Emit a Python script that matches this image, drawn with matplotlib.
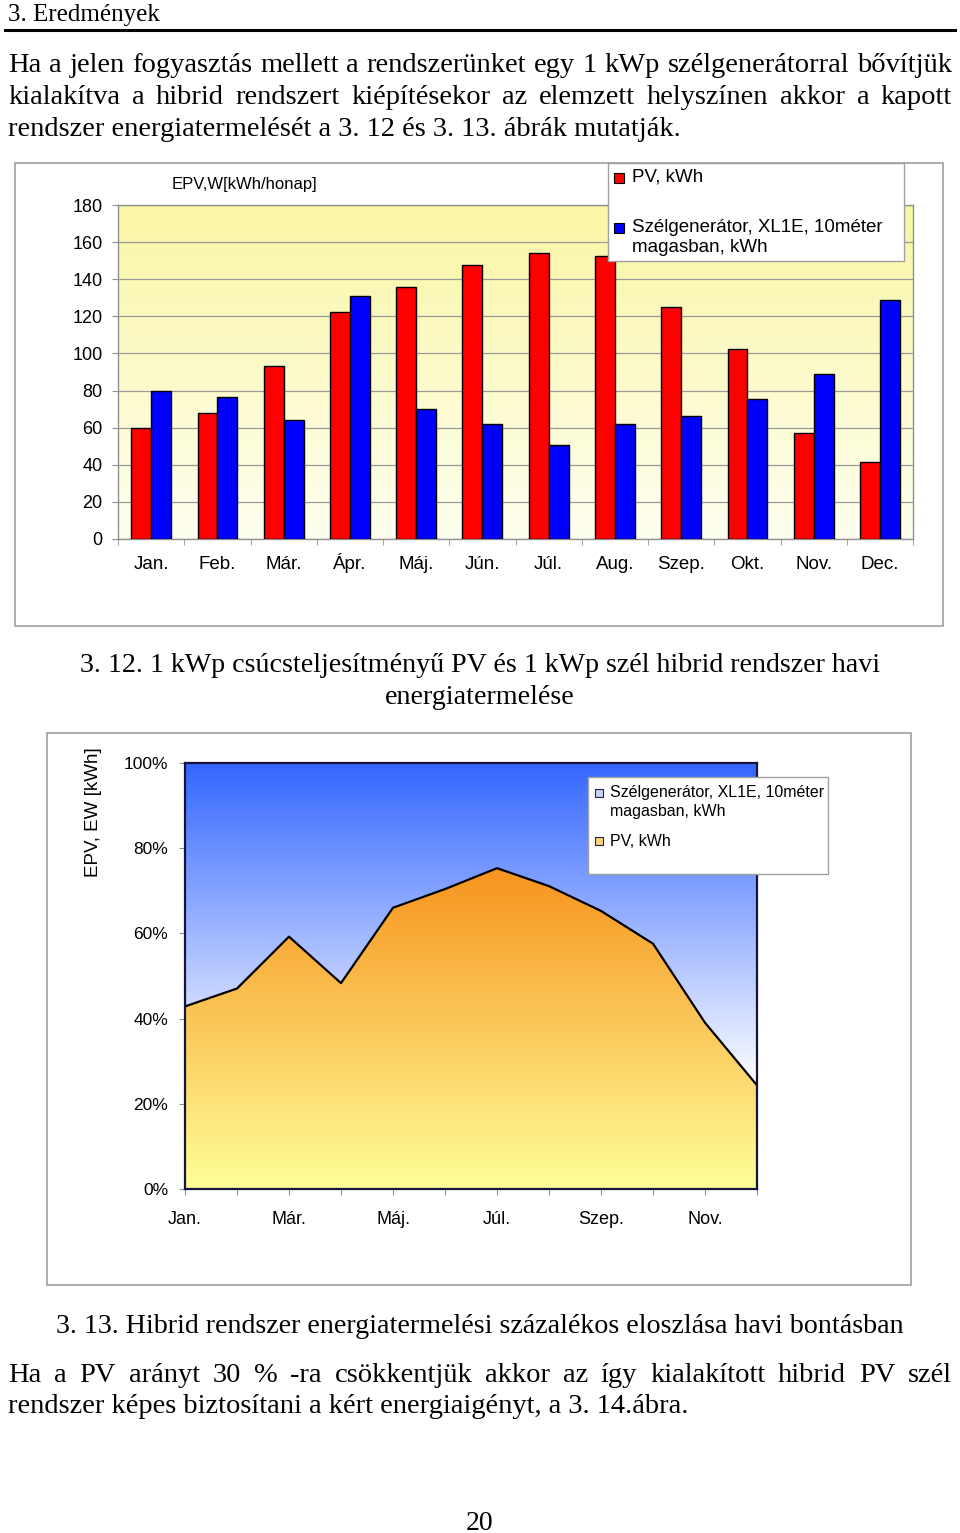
import numpy as np
import matplotlib
matplotlib.use('Agg')
import matplotlib.pyplot as plt
from matplotlib.patches import Rectangle
from matplotlib.lines import Line2D
from matplotlib.colors import LinearSegmentedColormap

# data (kWh / month)
months = ['Jan.', 'Feb.', 'Már.', 'Ápr.', 'Máj.', 'Jún.', 'Júl.', 'Aug.', 'Szep.', 'Okt.', 'Nov.', 'Dec.']
pv_kwh = [60, 68, 93, 122.5, 136, 147.5, 154, 152.5, 125, 102.5, 57, 41.5]
wind_kwh = [80, 76.5, 64, 131, 70, 62, 50.5, 62, 66.5, 75.5, 89, 129]
bar_ticks = [0, 20, 40, 60, 80, 100, 120, 140, 160, 180]
pct_ticks = [0, 0.2, 0.4, 0.6, 0.8, 1.0]
pct_labels = ['0%', '20%', '40%', '60%', '80%', '100%']

pv_label = 'PV, kWh'
wind_label = 'Szélgenerátor, XL1E, 10méter\nmagasban, kWh'

W, H = 960, 1533
SERIF = 'Liberation Serif'
SANS = 'Liberation Sans'
plt.rcParams['font.family'] = SANS

fig = plt.figure(figsize=(W / 100, H / 100), dpi=100)
fig.patch.set_facecolor('white')


def fx(px):
    return px / W


def fy(py):
    return 1 - py / H


def add_ax(x0, y0, x1, y1, **kw):
    return fig.add_axes([fx(x0), fy(y1), (x1 - x0) / W, (y1 - y0) / H], **kw)


def frame(x0, y0, x1, y1, ec='#a0a0a0', fc='none', lw=1.2, z=1):
    fig.add_artist(Rectangle((fx(x0), fy(y1)), (x1 - x0) / W, (y1 - y0) / H,
                             transform=fig.transFigure, facecolor=fc,
                             edgecolor=ec, lw=lw, zorder=z))


def justify(line, base, x0, x1, size):
    words = line.split()
    texts = [fig.text(0, fy(base), w, fontsize=size, family=SERIF, va='baseline') for w in words]
    r = fig.canvas.get_renderer()
    widths = [t.get_window_extent(r).width for t in texts]
    gap = (x1 - x0 - sum(widths)) / (len(words) - 1)
    x = x0
    for t, w in zip(texts, widths):
        t.set_x(fx(x))
        x += w + gap


BODY = 20.5

# ---- page text ----
fig.text(fx(8), fy(21), '3. Eredmények', fontsize=18, family=SERIF, va='baseline')
fig.add_artist(Line2D([fx(5), fx(955)], [fy(29.5), fy(29.5)], lw=2.2, color='black'))

justify('Ha a jelen fogyasztás mellett a rendszerünket egy 1 kWp szélgenerátorral bővítjük', 72, 8, 952, BODY)
justify('kialakítva a hibrid rendszert kiépítésekor az elemzett helyszínen akkor a kapott', 104, 8, 952, BODY)
fig.text(fx(8), fy(136), 'rendszer energiatermelését a 3. 12 és 3. 13. ábrák mutatják.',
         fontsize=BODY, family=SERIF, va='baseline')

fig.text(fx(480), fy(672), '3. 12. 1 kWp csúcsteljesítményű PV és 1 kWp szél hibrid rendszer havi',
         fontsize=20.2, family=SERIF, ha='center', va='baseline')
fig.text(fx(480), fy(704), 'energiatermelése', fontsize=20.2, family=SERIF, ha='center', va='baseline')

fig.text(fx(480), fy(1333), '3. 13. Hibrid rendszer energiatermelési százalékos eloszlása havi bontásban',
         fontsize=20.2, family=SERIF, ha='center', va='baseline')
justify('Ha a PV arányt 30 % -ra csökkentjük akkor az így kialakított hibrid PV szél', 1382, 8, 952, BODY)
fig.text(fx(8), fy(1413), 'rendszer képes biztosítani a kért energiaigényt, a 3. 14.ábra.',
         fontsize=BODY, family=SERIF, va='baseline')
fig.text(fx(480), fy(1530), '20', fontsize=20, family=SERIF, ha='center', va='baseline')

# ---- chart 1: monthly bars ----
frame(15, 163, 943, 626)

bg = add_ax(118, 205, 913, 539, zorder=0.5)
yellow = LinearSegmentedColormap.from_list('y', ['#fffff0', '#f9f6a4'])
bg.imshow(np.linspace(0, 1, 256).reshape(-1, 1), cmap=yellow, origin='lower',
          extent=[0, 1, 0, 1], aspect='auto')
bg.axis('off')

ax = add_ax(118, 205, 913, 539, zorder=1)
ax.patch.set_alpha(0)
x = np.arange(len(months))
ax.bar(x - 0.15, pv_kwh, 0.3, color='#ff0000', edgecolor='black', lw=1, zorder=3)
ax.bar(x + 0.15, wind_kwh, 0.3, color='#0000ff', edgecolor='black', lw=1, zorder=3)
ax.set_xlim(-0.5, len(months) - 0.5)
ax.set_ylim(0, 180)
ax.set_yticks(bar_ticks)
ax.set_xticks(x)
ax.set_xticklabels(months, fontsize=13.5)
for lab in ax.get_xticklabels():
    lab.set_va('baseline')
ax.set_xticks(np.arange(-0.5, len(months)), minor=True)
ax.tick_params(axis='x', which='major', length=0, pad=21.5)
ax.tick_params(axis='x', which='minor', length=4, color='#909090')
ax.tick_params(axis='y', length=4, color='#909090', pad=7, labelsize=13)
ax.yaxis.grid(True, color='#9a9a9a', lw=0.9, zorder=1)
ax.set_axisbelow(True)
for s in ax.spines.values():
    s.set_color('#909090')
    s.set_linewidth(1)

fig.text(fx(172), fy(185), 'EPV,W[kWh/honap]', fontsize=12, va='center')

# legend chart 1
frame(608, 163, 904, 261, fc='white', lw=1, z=10)
fig.add_artist(Rectangle((fx(614), fy(183)), 10 / W, 10 / H, transform=fig.transFigure,
                         facecolor='#ff0000', edgecolor='black', lw=0.8, zorder=11))
fig.add_artist(Rectangle((fx(614), fy(233)), 10 / W, 10 / H, transform=fig.transFigure,
                         facecolor='#0000ff', edgecolor='black', lw=0.8, zorder=11))
fig.text(fx(632), fy(177), pv_label, fontsize=13.5, va='center', zorder=12)
fig.text(fx(632), fy(219), wind_label, fontsize=13.5, va='top', zorder=12, linespacing=1.2)

# ---- chart 2: percentage split ----
frame(47, 733, 911, 1285)

pv = np.array(pv_kwh)
wind = np.array(wind_kwh)
share = pv / (pv + wind)

ax2 = add_ax(185, 763, 757, 1189, zorder=1)
orange = LinearSegmentedColormap.from_list('o', ['#ffff99', '#f7941e'])
blue = LinearSegmentedColormap.from_list('b', ['#ffffff', '#3366ff'])
grad = np.linspace(0, 1, 256).reshape(-1, 1)

pv_poly = ax2.fill_between(x, 0, share, facecolor='none', edgecolor='none')
w_poly = ax2.fill_between(x, share, 1, facecolor='none', edgecolor='none')
im_pv = ax2.imshow(grad, cmap=orange, origin='lower', aspect='auto',
                   extent=[0, len(months) - 1, 0, share.max()], zorder=1)
im_pv.set_clip_path(pv_poly.get_paths()[0], transform=ax2.transData)
im_w = ax2.imshow(grad, cmap=blue, origin='lower', aspect='auto',
                  extent=[0, len(months) - 1, share.min(), 1], zorder=1)
im_w.set_clip_path(w_poly.get_paths()[0], transform=ax2.transData)
ax2.plot(x, share, color='black', lw=1.6, zorder=3)

ax2.set_xlim(0, len(months) - 1)
ax2.set_ylim(0, 1)
ax2.set_xticks(x)
ax2.set_xticklabels([m if i % 2 == 0 else '' for i, m in enumerate(months)], fontsize=13)
for lab in ax2.get_xticklabels():
    lab.set_va('baseline')
ax2.set_yticks(pct_ticks)
ax2.set_yticklabels(pct_labels, fontsize=12.5)
ax2.tick_params(axis='x', length=4, color='#909090', pad=21)
ax2.tick_params(axis='y', length=4, color='#909090', pad=8)
for s in ax2.spines.values():
    s.set_color('#15153a')
    s.set_linewidth(1.6)
    s.set_zorder(4)

fig.text(fx(93), fy(812), 'EPV, EW [kWh]', fontsize=13.5, rotation=90, ha='center', va='center')

# legend chart 2
frame(588, 777, 828, 874, fc='white', lw=1, z=10)
fig.add_artist(Rectangle((fx(595), fy(797)), 8 / W, 8 / H, transform=fig.transFigure,
                         facecolor='#c9d2f5', edgecolor='#222244', lw=0.8, zorder=11))
fig.add_artist(Rectangle((fx(595), fy(845)), 8 / W, 8 / H, transform=fig.transFigure,
                         facecolor='#fcd27a', edgecolor='#222244', lw=0.8, zorder=11))
fig.text(fx(610), fy(785), wind_label, fontsize=11.5, va='top', linespacing=1.3, zorder=12)
fig.text(fx(610), fy(841), pv_label, fontsize=11.5, va='center', zorder=12)

fig.savefig('out.png', dpi=100)
plt.close(fig)
